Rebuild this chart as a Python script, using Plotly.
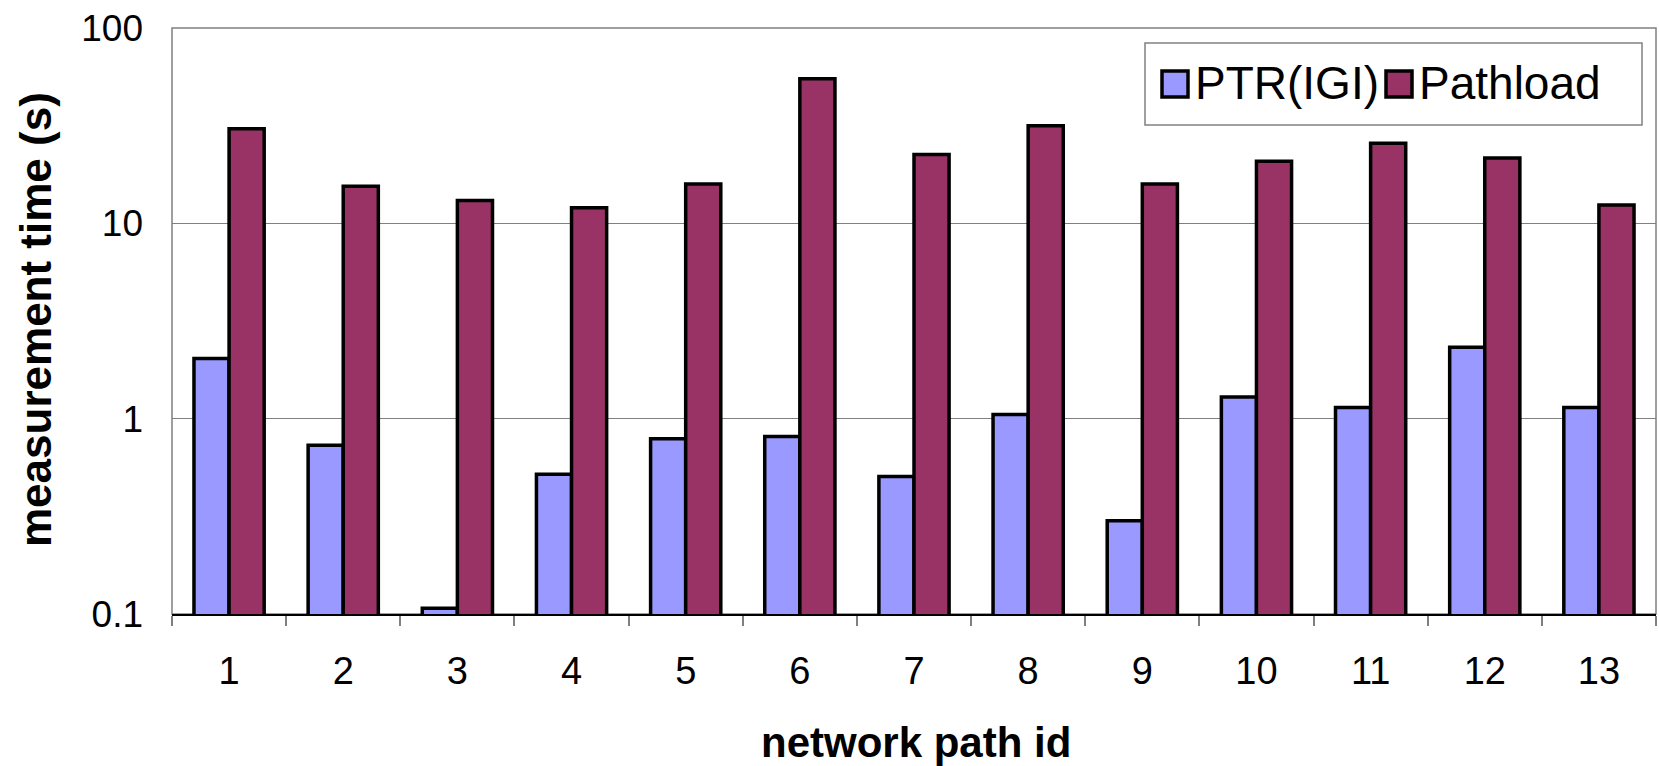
import plotly.graph_objects as go

# Measurement time per network path (seconds, log scale)
path_ids = [str(i) for i in range(1, 14)]
ptr_igi = [2.03, 0.73, 0.107, 0.52, 0.79, 0.81, 0.505, 1.05, 0.30, 1.29, 1.14, 2.32, 1.14]
pathload = [30.5, 15.5, 13.1, 12.0, 15.9, 55.0, 22.5, 31.6, 15.9, 20.8, 25.7, 21.6, 12.4]

series_names = ["PTR(IGI)", "Pathload"]
series_colors = ["#9999FF", "#993366"]
y_tick_vals = [0.1, 1, 10, 100]
y_tick_text = ["0.1", "1", "10", "100"]

FONT = "Liberation Sans, Arial, sans-serif"
GRID = "#808080"

W, H = 1659, 766
L, R, T, B = 172, 3, 28, 152
PW, PH = W - L - R, H - T - B


def px_x(x):
    return (x - L) / PW


def px_y(y):
    return (H - B - y) / PH


fig = go.Figure()
for name, vals, col in zip(series_names, [ptr_igi, pathload], series_colors):
    fig.add_trace(go.Bar(
        x=path_ids, y=vals, name=name,
        marker=dict(color=col, line=dict(color="black", width=3.5)),
        showlegend=False,
    ))

shapes = [
    # plot frame (top, left, right)
    dict(type="rect", xref="paper", yref="paper", x0=0, x1=1, y0=0, y1=1,
         line=dict(color=GRID, width=1.5), layer="below"),
    # legend box
    dict(type="rect", xref="paper", yref="paper",
         x0=px_x(1145), x1=px_x(1642), y0=px_y(125), y1=px_y(43),
         line=dict(color=GRID, width=1.5), fillcolor="white", layer="above"),
]
annotations = []
legend_keys = [(1162, series_names[0]), (1386, series_names[1])]
for (kx, label), col in zip(legend_keys, series_colors):
    shapes.append(dict(type="rect", xref="paper", yref="paper",
                       x0=px_x(kx), x1=px_x(kx + 26), y0=px_y(97), y1=px_y(71),
                       fillcolor=col, line=dict(color="black", width=3.5), layer="above"))
    annotations.append(dict(text=label, xref="paper", yref="paper",
                            x=px_x(kx + 31), y=px_y(83), xanchor="left", yanchor="middle",
                            showarrow=False, font=dict(family=FONT, size=46, color="black")))

annotations.append(dict(text="<b>measurement time (s)</b>", xref="paper", yref="paper",
                        x=px_x(35), y=px_y(320), xanchor="center", yanchor="middle",
                        textangle=-90, showarrow=False,
                        font=dict(family=FONT, size=44, color="black")))
annotations.append(dict(text="<b>network path id</b>", xref="paper", yref="paper",
                        x=px_x(916), y=px_y(742), xanchor="center", yanchor="middle",
                        showarrow=False,
                        font=dict(family=FONT, size=42, color="black")))

fig.update_layout(
    width=W, height=H,
    margin=dict(l=L, r=R, t=T, b=B),
    paper_bgcolor="white", plot_bgcolor="white",
    barmode="group", bargap=0.385, bargroupgap=0,
    shapes=shapes, annotations=annotations,
    showlegend=False,
)
fig.update_xaxes(
    type="category",
    showline=True, linecolor="black", linewidth=1.5,
    ticks="outside", tickson="boundaries", ticklen=10, tickcolor=GRID, tickwidth=1.5,
    ticklabelstandoff=23,
    tickfont=dict(family=FONT, size=38, color="black"),
    showgrid=False,
)
fig.update_yaxes(
    type="log", range=[-1, 2],
    tickvals=y_tick_vals, ticktext=y_tick_text,
    showgrid=True, gridcolor=GRID, gridwidth=1.2,
    showline=False, ticks="",
    ticklabelstandoff=28,
    tickfont=dict(family=FONT, size=37, color="black"),
    zeroline=False,
)

fig.write_html("out.html")
